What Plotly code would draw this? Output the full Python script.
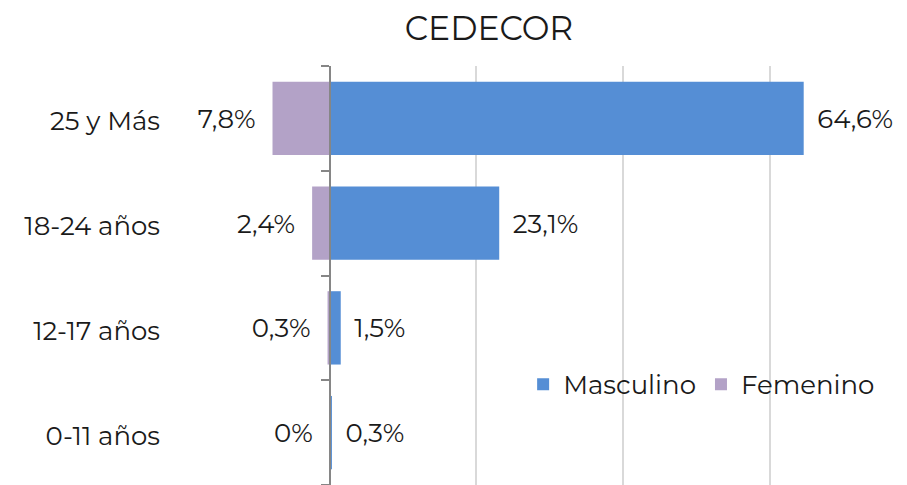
import plotly.graph_objects as go

categories = ["0-11 años", "12-17 años", "18-24 años", "25 y Más"]
masculino = [0.3, 1.5, 23.1, 64.6]
femenino = [0.0, 0.3, 2.4, 7.8]
x_ticks = [-20, 0, 20, 40, 60]
title_text = "CEDECOR"

MALE = "#558ED5"
FEMALE = "#B3A2C7"
FONT = "Montserrat, Inter, 'Noto Sans', sans-serif"
NB = "\u00a0"
THIN = "\u2009"
FS = 26

# the page body has an 8px default margin; the figure is sized to fill the rest
W, H = 899, 477
PLOT_H = 420
TEXT_DROP = 3 / (PLOT_H / len(categories))  # text sits ~3px below bar centres


def fmt(v):
    s = f"{v:.1f}".rstrip("0").rstrip(".")
    return s.replace(".", ",") + "%"


x_min, x_max = -20, 75
y_rng = [-0.5, len(categories) - 0.5]
y_txt_rng = [y_rng[0] + TEXT_DROP, y_rng[1] + TEXT_DROP]

fig = go.Figure()
fig.add_trace(go.Bar(y=categories, x=masculino, orientation="h", name="Masculino",
                     marker=dict(color=MALE, line=dict(width=0)), hoverinfo="skip"))
fig.add_trace(go.Bar(y=categories, x=[-v for v in femenino], orientation="h", name="Femenino",
                     marker=dict(color=FEMALE, line=dict(width=0)), hoverinfo="skip"))
# data labels (on a text axis shifted a few pixels)
fig.add_trace(go.Scatter(y=categories, x=masculino, mode="text", yaxis="y3",
                         text=[NB * 2 + fmt(v) for v in masculino], textposition="middle right",
                         textfont=dict(size=FS, color="#1a1a1a", family=FONT),
                         showlegend=False, hoverinfo="skip", cliponaxis=False))
fig.add_trace(go.Scatter(y=categories, x=[-v for v in femenino], mode="text", yaxis="y3",
                         text=[fmt(v) + NB * 2 + THIN for v in femenino], textposition="middle left",
                         textfont=dict(size=FS, color="#1a1a1a", family=FONT),
                         showlegend=False, hoverinfo="skip", cliponaxis=False))
# helper trace for the central axis with category ticks
fig.add_trace(go.Scatter(y=categories, x=[0] * len(categories), yaxis="y2", mode="markers",
                         marker=dict(opacity=0), showlegend=False, hoverinfo="skip"))

fig.update_layout(
    width=W, height=H,
    margin=dict(l=175, r=27, t=58, b=0, pad=0),
    paper_bgcolor="white", plot_bgcolor="white",
    barmode="relative", bargap=0.3,
    font=dict(family=FONT, size=FS, color="#1a1a1a"),
    title=dict(text=title_text, x=0.535, xanchor="center", y=0.958, yanchor="middle",
               xref="container", yref="container",
               font=dict(size=33, color="#1a1a1a", family=FONT)),
    xaxis=dict(range=[x_min, x_max], tickvals=x_ticks, showticklabels=False,
               showgrid=True, gridcolor="#D9D9D9", gridwidth=1.5,
               zeroline=False, showline=False, fixedrange=True, automargin=False),
    yaxis=dict(categoryorder="array", categoryarray=categories, range=y_rng,
               showgrid=False, showline=False, ticks="", showticklabels=False,
               automargin=False),
    yaxis3=dict(overlaying="y", anchor="x", side="left", automargin=False,
                categoryorder="array", categoryarray=categories, range=y_txt_rng,
                showgrid=False, showline=False, ticks="", ticklabelstandoff=22,
                tickfont=dict(size=FS, color="#1a1a1a", family=FONT)),
    yaxis2=dict(overlaying="y", anchor="free", side="left", automargin=False,
                position=(0 - x_min) / (x_max - x_min),
                categoryorder="array", categoryarray=categories, range=y_rng,
                showline=True, linecolor="#868686", linewidth=2,
                ticks="outside", tickson="boundaries", ticklen=8, tickwidth=2,
                tickcolor="#868686", showticklabels=False, showgrid=False),
    legend=dict(orientation="h", x=0.488, xanchor="left", y=0.24, yanchor="middle",
                bgcolor="rgba(0,0,0,0)", font=dict(size=FS, color="#1a1a1a", family=FONT),
                itemclick=False),
    showlegend=True,
)

fig.write_html("out.html")
